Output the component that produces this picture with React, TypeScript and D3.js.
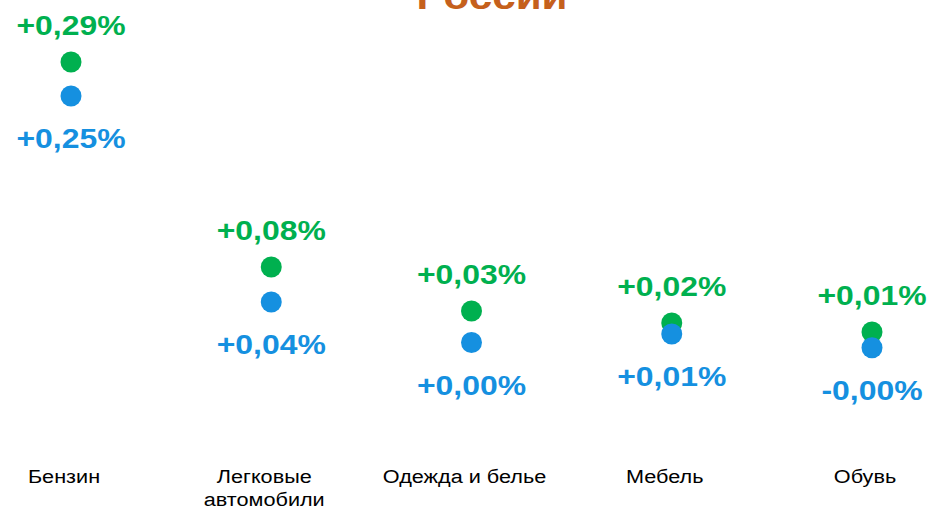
import React from "react";
import * as d3 from "d3";

const categories: string[][] = [["Бензин"], ["Легковые", "автомобили"], ["Одежда и белье"], ["Мебель"], ["Обувь"]];
const greenValues: number[] = [0.29, 0.0784, 0.033, 0.0206, 0.0114];
const blueValues: number[] = [0.2549, 0.0423, 0.0005, 0.0093, -0.0049];
const titleText = "России";

const W = 931;
const H = 511;
const GREEN = "#00b04f";
const BLUE = "#1590e0";
const ORANGE = "#c5601c";
const SX = 1.14;

const fmt = (v: number) => (v < 0 ? "-" : "+") + Math.abs(v).toFixed(2).replace(".", ",") + "%";

function T(props: { x: number; y: number; fill: string; size: number; bold?: boolean; children: React.ReactNode }) {
  return (
    <text
      transform={`translate(${props.x},${props.y}) scale(${SX},1)`}
      textAnchor="middle"
      fill={props.fill}
      fontWeight={props.bold ? "bold" : "normal"}
      fontSize={props.size}
    >
      {props.children}
    </text>
  );
}

export default function App() {
  const keys = categories.map((c) => c.join(" "));
  const x = d3.scalePoint<string>().domain(keys).range([71, 872]);
  const y = d3.scaleLinear().domain([0, 0.29]).range([343, 62]);
  const font = "'Liberation Sans', Arial, Helvetica, sans-serif";
  return (
    <svg width={W} height={H} style={{ position: "absolute", left: 0, top: 0, background: "#fff" }} fontFamily={font}>
      <T x={492} y={9} fill={ORANGE} size={37} bold>
        {titleText}
      </T>
      {keys.map((k, i) => {
        const cx = x(k)!;
        const gy = y(greenValues[i]);
        const by = y(blueValues[i]);
        return (
          <g key={k}>
            <circle cx={cx} cy={gy} r={10.5} fill={GREEN} />
            <circle cx={cx} cy={by} r={10.5} fill={BLUE} />
            <T x={cx} y={gy - 27} fill={GREEN} size={28} bold>
              {fmt(greenValues[i])}
            </T>
            <T x={cx} y={by + 52} fill={BLUE} size={28} bold>
              {fmt(blueValues[i])}
            </T>
            {categories[i].map((line, j) => (
              <T key={j} x={cx - 7} y={483 + j * 23} fill="#000" size={19}>
                {line}
              </T>
            ))}
          </g>
        );
      })}
    </svg>
  );
}
